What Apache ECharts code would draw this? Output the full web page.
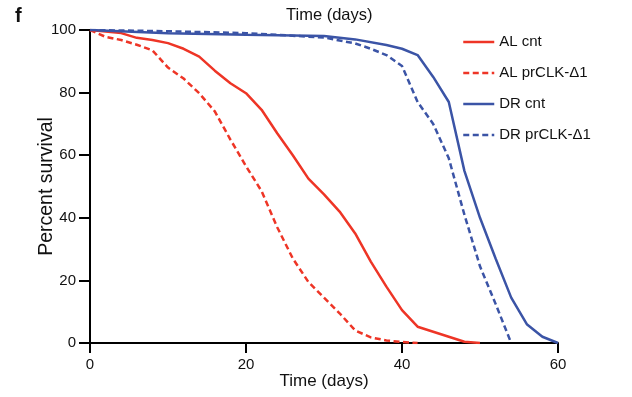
<!DOCTYPE html>
<html>
<head>
<meta charset="utf-8">
<script src="https://cdn.jsdelivr.net/npm/echarts@6/dist/echarts.min.js"></script>
<style>
  html, body { margin: 0; padding: 0; background: #fff; }
  #chart { width: 632px; height: 397px; }
</style>
</head>
<body>
<div id="chart"></div>
<script>
// survival data (days, percent alive)
const alCntDays = [0, 2, 4, 6, 8, 10, 12, 14, 16, 18, 20, 22, 24, 26, 28, 30, 32, 34, 36, 38, 40, 42, 48, 50];
const alCntVals = [100, 99.5, 99, 97.5, 96.8, 95.8, 94, 91.5, 87, 83, 79.8, 74.5, 67, 60, 52.5, 47.5, 42, 35, 26, 18, 10.5, 5.2, 0.4, 0];

const alPrDays = [0, 2, 4, 6, 8, 10, 12, 14, 16, 18, 20, 22, 24, 26, 28, 30, 32, 34, 36, 38, 40, 42];
const alPrVals = [100, 97.8, 96.8, 95.3, 93.5, 88, 84.5, 79.8, 74, 65, 56.5, 48.5, 37, 27, 19.5, 14.5, 9.5, 4, 1.8, 0.8, 0.3, 0];

const drCntDays = [0, 10, 20, 30, 34, 38, 40, 42, 44, 46, 48, 50, 52, 54, 56, 58, 60];
const drCntVals = [100, 99, 98.5, 98.1, 97, 95.2, 94, 92, 85, 77, 55, 40, 27, 14.5, 6, 2, 0];

const drPrDays = [0, 10, 20, 30, 34, 36, 38, 40, 42, 44, 46, 48, 50, 52, 54];
const drPrVals = [100, 99.6, 99, 97.6, 95.7, 94, 92, 88.5, 77, 70, 59, 41, 24.5, 12.5, 0];

const xTicks = [0, 20, 40, 60];
const yTicks = [0, 20, 40, 60, 80, 100];

const RED = '#ee3526';
const BLUE = '#3b54a6';
const FONT = 'Liberation Sans, Arial, sans-serif';

const pairs = (xs, ys) => xs.map((x, i) => [x, ys[i]]);

const chart = echarts.init(document.getElementById('chart'), null, { renderer: 'canvas' });

const mkSeries = (name, data, color, dashed) => ({
  name,
  type: 'line',
  data,
  showSymbol: false,
  symbol: 'none',
  smooth: false,
  z: dashed ? 3 : 2,
  lineStyle: { color, width: 2.5, type: dashed ? [6, 3.5] : 'solid' },
  itemStyle: { color }
});

const option = {
  animation: false,
  backgroundColor: '#fff',
  title: {
    text: 'Time (days)',
    left: 281,
    top: 2,
    textStyle: { fontSize: 16.5, fontWeight: 'normal', color: '#111', fontFamily: FONT }
  },
  graphic: [{
    type: 'text',
    left: 15,
    top: 6,
    style: { text: 'f', fontSize: 20, fontWeight: 'bold', fill: '#111', fontFamily: FONT }
  }],
  legend: {
    orient: 'vertical',
    left: 462,
    top: 34.5,
    padding: 0,
    itemWidth: 31,
    itemHeight: 14,
    itemGap: 16,
    // hide the marker circle, keep only the line
    itemStyle: { opacity: 0, borderWidth: 0, color: 'rgba(0,0,0,0)' },
    lineStyle: { width: 2.5 },
    textStyle: { fontSize: 15, color: '#111', fontFamily: FONT },
    data: ['AL cnt', 'AL prCLK-\u03941', 'DR cnt', 'DR prCLK-\u03941']
  },
  grid: { left: 90, right: 74, top: 30, bottom: 54, containLabel: false },
  xAxis: {
    type: 'value',
    min: 0,
    max: 60,
    interval: 20,
    name: 'Time (days)',
    nameLocation: 'middle',
    nameGap: 30,
    nameMoveOverlap: false,
    nameTextStyle: { fontSize: 17, color: '#111', fontFamily: FONT },
    axisLine: { lineStyle: { color: '#000', width: 2 } },
    axisTick: { length: 10, lineStyle: { color: '#000', width: 2 } },
    axisLabel: { margin: 14, fontSize: 15, color: '#111', fontFamily: FONT, formatter: v => xTicks.includes(v) ? String(v) : '' },
    splitLine: { show: false }
  },
  yAxis: {
    type: 'value',
    min: 0,
    max: 100,
    interval: 20,
    name: 'Percent survival',
    nameLocation: 'middle',
    nameGap: 33,
    nameMoveOverlap: false,
    nameTextStyle: { fontSize: 19.5, color: '#111', fontFamily: FONT },
    axisLine: { show: true, lineStyle: { color: '#000', width: 2 } },
    axisTick: { show: true, length: 11, lineStyle: { color: '#000', width: 2 } },
    axisLabel: { margin: 14, fontSize: 15, color: '#111', fontFamily: FONT, formatter: v => yTicks.includes(v) ? String(v) : '' },
    splitLine: { show: false }
  },
  series: [
    mkSeries('AL cnt', pairs(alCntDays, alCntVals), RED, false),
    mkSeries('AL prCLK-\u03941', pairs(alPrDays, alPrVals), RED, true),
    mkSeries('DR cnt', pairs(drCntDays, drCntVals), BLUE, false),
    mkSeries('DR prCLK-\u03941', pairs(drPrDays, drPrVals), BLUE, true)
  ]
};

chart.setOption(option);
</script>
</body>
</html>
